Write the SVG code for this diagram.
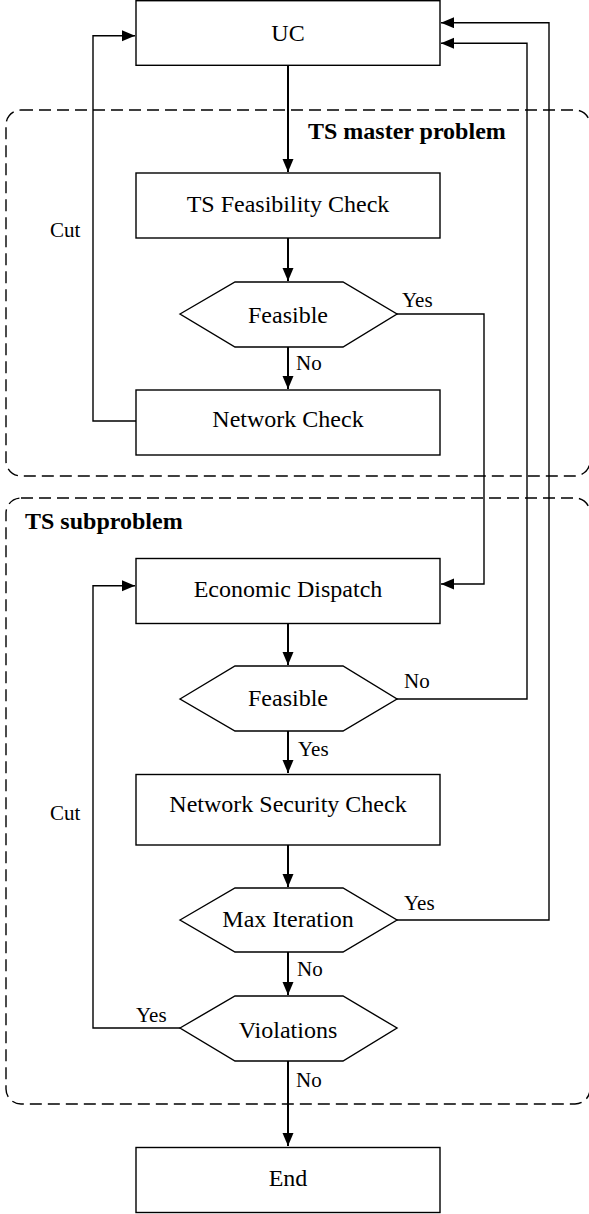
<svg xmlns="http://www.w3.org/2000/svg" width="589" height="1214" viewBox="0 0 589 1214">
<style>
.box{fill:#fff;stroke:#000;stroke-width:1.4}
.grp{fill:none;stroke:#000;stroke-width:1.4;stroke-dasharray:12 6}
.t{font-family:"Liberation Serif","Times New Roman",serif;font-size:24px;fill:#000;text-anchor:middle}
.lb{font-family:"Liberation Serif","Times New Roman",serif;font-size:21px;fill:#000}
.gt{font-family:"Liberation Serif","Times New Roman",serif;font-size:24px;font-weight:bold;fill:#000}
.c{fill:none;stroke:#000;stroke-width:1.4}
.v{fill:none;stroke:#000;stroke-width:2}
</style>
<defs>
<marker id="ah" markerUnits="userSpaceOnUse" markerWidth="14" markerHeight="12" refX="13" refY="5.5" orient="auto">
<path d="M0,0 L13,5.5 L0,11 z" fill="#000"/>
</marker>
</defs>
<g id="group-master">
<rect class="grp" x="6" y="110" width="584" height="366" rx="15"/>
<text class="gt" x="308" y="139">TS master problem</text>
</g>
<g id="group-sub">
<rect class="grp" x="6" y="498" width="584" height="606" rx="15"/>
<text class="gt" x="25" y="529">TS subproblem</text>
</g>
<g id="connectors">
<path class="v" d="M288,65 V172" marker-end="url(#ah)"/>
<path class="v" d="M288,238 V281" marker-end="url(#ah)"/>
<path class="v" d="M288,347 V389" marker-end="url(#ah)"/>
<path class="c" d="M136,421 H93 V35.7 H135" marker-end="url(#ah)"/>
<path class="c" d="M397,314 H484 V584 H441" marker-end="url(#ah)"/>
<path class="v" d="M288,623 V665" marker-end="url(#ah)"/>
<path class="c" d="M397,699 H527 V43.3 H441" marker-end="url(#ah)"/>
<path class="v" d="M288,731 V773" marker-end="url(#ah)"/>
<path class="v" d="M288,845 V887" marker-end="url(#ah)"/>
<path class="c" d="M397,920 H549 V22.7 H441" marker-end="url(#ah)"/>
<path class="v" d="M288,952 V995" marker-end="url(#ah)"/>
<path class="c" d="M180,1028 H93 V585.7 H135" marker-end="url(#ah)"/>
<path class="v" d="M288,1061 V1146" marker-end="url(#ah)"/>
<text class="lb" x="50" y="237">Cut</text>
<text class="lb" x="402" y="307">Yes</text>
<text class="lb" x="296" y="370">No</text>
<text class="lb" x="404" y="688">No</text>
<text class="lb" x="298" y="756">Yes</text>
<text class="lb" x="50" y="820">Cut</text>
<text class="lb" x="404" y="910">Yes</text>
<text class="lb" x="297" y="976">No</text>
<text class="lb" x="136" y="1022">Yes</text>
<text class="lb" x="296" y="1087">No</text>
</g>
<g id="uc">
<rect class="box" x="136" y="0.7" width="304" height="64.6"/>
<text class="t" x="288" y="40.5">UC</text>
</g>
<g id="ts-feasibility">
<rect class="box" x="136" y="173" width="304" height="65"/>
<text class="t" x="288" y="212">TS Feasibility Check</text>
</g>
<g id="feasible1">
<polygon class="box" points="180,314 235,282 343,282 397,314 343,347 235,347"/>
<text class="t" x="288" y="323">Feasible</text>
</g>
<g id="network-check">
<rect class="box" x="136" y="390" width="304" height="65"/>
<text class="t" x="288" y="427">Network Check</text>
</g>
<g id="economic-dispatch">
<rect class="box" x="136" y="558.5" width="304" height="65"/>
<text class="t" x="288" y="597">Economic Dispatch</text>
</g>
<g id="feasible2">
<polygon class="box" points="180,699 235,666 343,666 397,699 343,731 235,731"/>
<text class="t" x="288" y="706">Feasible</text>
</g>
<g id="network-security">
<rect class="box" x="136" y="774.5" width="304" height="70.5"/>
<text class="t" x="288" y="812">Network Security Check</text>
</g>
<g id="max-iteration">
<polygon class="box" points="180,920 235,888 343,888 397,920 343,952 235,952"/>
<text class="t" x="288" y="927">Max Iteration</text>
</g>
<g id="violations">
<polygon class="box" points="180,1028 235,996 343,996 397,1028 343,1061 235,1061"/>
<text class="t" x="288" y="1038">Violations</text>
</g>
<g id="end">
<rect class="box" x="136" y="1147.5" width="304" height="65"/>
<text class="t" x="288" y="1186">End</text>
</g>
</svg>
